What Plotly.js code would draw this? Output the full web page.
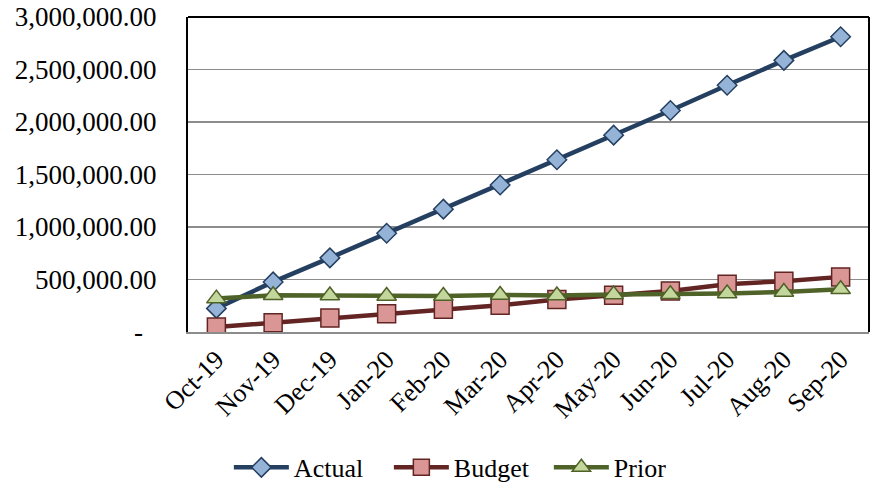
<!DOCTYPE html>
<html>
<head>
<meta charset="utf-8">
<script src="https://cdn.plot.ly/plotly-3.0.1.min.js"></script>
<style>html,body{margin:0;padding:0;background:#fff;}#chart{width:877px;height:486px;}</style>
</head>
<body>
<div id="chart"></div>
<script>
const months = ["Oct-19","Nov-19","Dec-19","Jan-20","Feb-20","Mar-20","Apr-20","May-20","Jun-20","Jul-20","Aug-20","Sep-20"];
const actual = [225000, 477000, 706000, 940000, 1170000, 1400000, 1640000, 1875000, 2109000, 2350000, 2587000, 2812000];
const budget = [47000, 89000, 133000, 175000, 216000, 254000, 309000, 350000, 391000, 455000, 484000, 525000];
const prior = [318000, 350000, 347000, 343000, 343000, 353000, 347000, 357000, 359000, 366000, 381000, 407000];
const yTickVals = [0, 500000, 1000000, 1500000, 2000000, 2500000, 3000000];
const yTickText = ["-\u00a0\u00a0", "500,000.00", "1,000,000.00", "1,500,000.00", "2,000,000.00", "2,500,000.00", "3,000,000.00"];

const fam = "'Liberation Serif', 'Times New Roman', serif";
const font = {family: fam, size: 26, color: "#000"};
const yfont = {family: fam, size: 27, color: "#000"};

const traces = [
  {name: "Actual", x: months, y: actual, type: "scatter", mode: "lines+markers",
   line: {color: "#243F60", width: 4.5},
   marker: {symbol: "diamond", size: 15, color: "#95B3D7", line: {color: "#243F60", width: 1.5}}},
  {name: "Budget", x: months, y: budget, type: "scatter", mode: "lines+markers",
   line: {color: "#632523", width: 4.5},
   marker: {symbol: "square", size: 18, color: "#D99694", line: {color: "#632523", width: 1.5}}},
  {name: "Prior", x: months, y: prior, type: "scatter", mode: "lines+markers",
   line: {color: "#4F6228", width: 4.5},
   marker: {symbol: "triangle-up", size: 17, color: "#C3D69B", line: {color: "#4F6228", width: 1.5}}}
];

const layout = {
  width: 877, height: 486,
  margin: {l: 188, r: 8, t: 17, b: 154, autoexpand: false},
  paper_bgcolor: "#fff", plot_bgcolor: "#fff",
  font: font,
  showlegend: true,
  legend: {orientation: "h", x: 0.06, xanchor: "left", y: -0.43, yanchor: "middle",
           font: font, itemwidth: 55, entrywidth: 90, traceorder: "normal"},
  xaxis: {type: "category", range: [-0.5, 11.5], tickangle: -45, tickfont: font, automargin: false,
          showgrid: false, zeroline: false, showline: true, linecolor: "#8c8c8c", linewidth: 2,
          ticks: "", fixedrange: true},
  yaxis: {range: [0, 3000000], tickvals: yTickVals, ticktext: yTickText, tickfont: yfont, automargin: false,
          showgrid: true, gridcolor: "#8c8c8c", gridwidth: 1.5, zeroline: false,
          showline: true, linecolor: "#000", linewidth: 2, ticks: "", ticklabelstandoff: 24,
          fixedrange: true},
  shapes: [
    {type: "line", xref: "paper", yref: "paper", x0: 0, x1: 1, y0: 1, y1: 1, line: {color: "#000", width: 2}},
    {type: "line", xref: "paper", yref: "paper", x0: 1, x1: 1, y0: 0, y1: 1, line: {color: "#000", width: 2}}
  ]
};

Plotly.newPlot("chart", traces, layout, {staticPlot: true, displayModeBar: false});
</script>
</body>
</html>
